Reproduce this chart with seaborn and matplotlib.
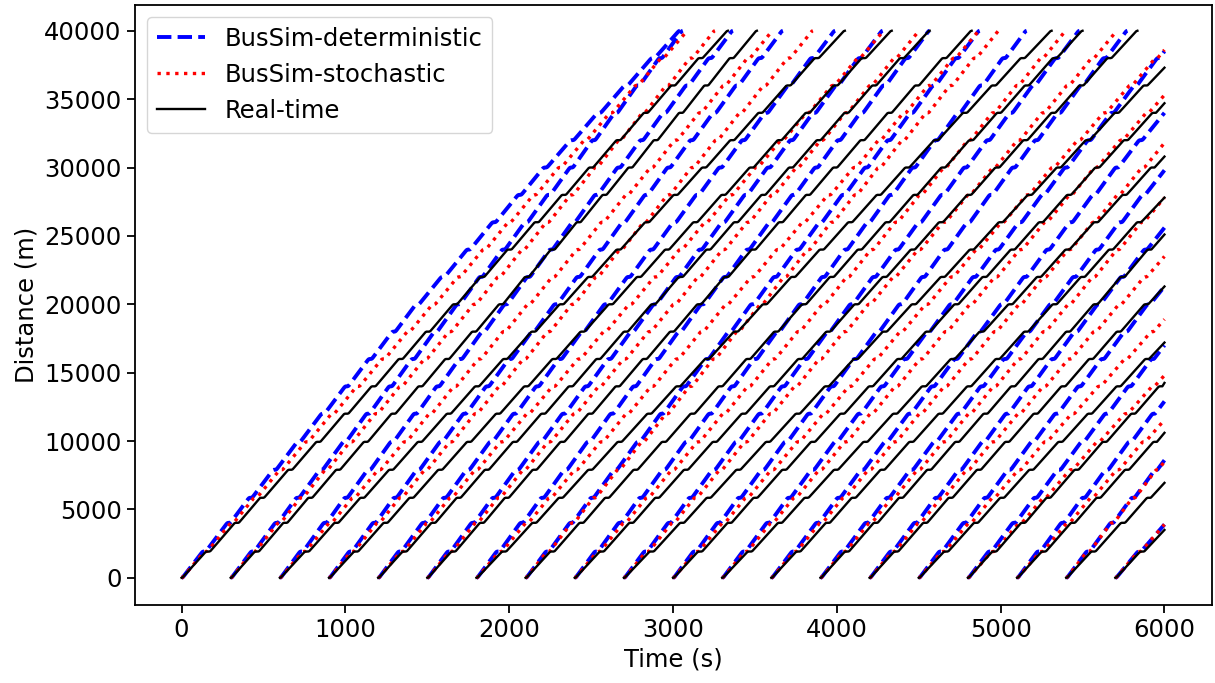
import numpy as np
import pandas as pd
import matplotlib
matplotlib.use("Agg")
import matplotlib.pyplot as plt
import seaborn as sns

# =========================
# DATA
# =========================

departures = [0, 300, 600, 900, 1200, 1500, 1800, 2100, 2400, 2700,
              3000, 3300, 3600, 3900, 4200, 4500, 4800, 5100, 5400, 5700]

# distance checkpoints (m) and passing times (s) of every bus
checkpoints = [0, 10000, 20000, 30000, 40000]

# bus stops along the route (m)
stops = [1920, 4020, 5850, 7900, 9940, 12000, 14000, 16000, 18000, 20000,
         22000, 24000, 26000, 28000, 30000, 32000, 34000, 36000, 38000]

det_times = [
    [0, 720, 1440, 2220, 3043],
    [300, 1000, 1690, 2380, 3060],
    [600, 1290, 1980, 2670, 3366],
    [900, 1590, 2285, 2975, 3671],
    [1200, 1895, 2590, 3290, 3990],
    [1500, 2195, 2890, 3585, 4280],
    [1800, 2490, 3180, 3875, 4567],
    [2100, 2795, 3485, 4180, 4872],
    [2400, 3090, 3780, 4470, 5159],
    [2700, 3395, 4090, 4785, 5482],
    [3000, 3695, 4390, 5080, 5774],
    [3300, 4000, 4700, 5400, None],
    [3600, 4305, 5010, 5710, None],
    [3900, 4605, 5310, None, None],
    [4200, 4900, 5600, None, None],
    [4500, 5200, 5905, None, None],
    [4800, 5505, None, None, None],
    [5100, 5795, None, None, None],
    [5400, None, None, None, None],
    [5700, None, None, None, None],
]
# distance reached at t = 6000 s (40000 = trip finished)
det_end = [40000] * 11 + [38500, 34000, 29800, 25600, 21300, 17000, 12900, 8600, 3900]

sto_times = [
    [0, 770, 1540, 2310, 3091],
    [300, 1040, 1790, 2530, 3256],
    [600, 1370, 2120, 2870, 3610],
    [900, 1650, 2390, 3120, 3854],
    [1200, 1960, 2740, 3510, 4290],
    [1500, 2250, 3010, 3760, 4506],
    [1800, 2570, 3330, 4110, 4870],
    [2100, 2820, 3540, 4260, 4990],
    [2400, 3160, 3920, 4660, 5400],
    [2700, 3450, 4200, 4960, 5713],
    [3000, 3770, 4550, 5320, None],
    [3300, 4060, 4820, 5580, None],
    [3600, 4360, 5120, 5870, None],
    [3900, 4660, 5420, None, None],
    [4200, 4960, 5730, None, None],
    [4500, 5280, None, None, None],
    [4800, 5600, None, None, None],
    [5100, 5880, None, None, None],
    [5400, None, None, None, None],
    [5700, None, None, None, None],
]
sto_end = [40000] * 10 + [38600, 35300, 31800, 27800, 23500, 18900, 14800, 11550, 8500, 3900]

real_times = [
    [0, 840, 1670, 2500, 3335],
    [300, 1130, 1950, 2740, 3512],
    [600, 1460, 2320, 3190, 4049],
    [900, 1760, 2620, 3480, 4335],
    [1200, 2040, 2880, 3720, 4567],
    [1500, 2330, 3160, 3990, 4823],
    [1800, 2680, 3560, 4430, 5311],
    [2100, 2950, 3800, 4650, 5500],
    [2400, 3260, 4120, 4980, 5835],
    [2700, 3585, 4470, 5355, None],
    [3000, 3860, 4730, 5590, None],
    [3300, 4180, 5060, 5930, None],
    [3600, 4460, 5330, None, None],
    [3900, 4740, 5580, None, None],
    [4200, 5045, 5890, None, None],
    [4500, 5370, None, None, None],
    [4800, 5640, None, None, None],
    [5100, 5950, None, None, None],
    [5400, None, None, None, None],
    [5700, None, None, None, None],
]
real_end = [40000] * 9 + [37300, 34700, 30800, 27800, 25100, 21300, 17200, 14250, 10600, 6940, 3500]

models = ["BusSim-deterministic", "BusSim-stochastic", "Real-time"]
dwell = {"BusSim-deterministic": 8, "BusSim-stochastic": 8, "Real-time": 16}
ramps = {"BusSim-deterministic": 0.08, "BusSim-stochastic": 0.07, "Real-time": 0.06}
T_END = 6000


# =========================
# BUILD TRAJECTORIES
# =========================

def profile(tau, r1, r2):
    # accelerate / cruise / decelerate between two stops
    r2 = max(r2, 1e-9)
    vmax = 1.0 / (1.0 - (r1 + r2) / 2.0)
    mid = vmax * (tau - r1 / 2.0)
    start = 0.5 * vmax * tau ** 2 / r1
    end = 1.0 - 0.5 * vmax * (1.0 - tau) ** 2 / r2
    return np.where(tau < r1, start, np.where(tau > 1 - r2, end, mid))


def trajectory(times, end_dist, wait, ramp):
    d = [c for c, t in zip(checkpoints, times) if t is not None]
    t = [t for t in times if t is not None]
    if end_dist < 40000:
        d.append(end_dist)
        t.append(T_END)
    nodes = [0] + [s for s in stops if s < d[-1] - 150] + [d[-1]]
    pass_t = np.interp(nodes, d, t)
    tt, xx = [pass_t[0]], [0.0]
    t0, x0 = pass_t[0], 0.0
    tau = np.linspace(0, 1, 24)[1:]
    for k in range(1, len(nodes)):
        last = k == len(nodes) - 1
        arr = pass_t[k] if last else pass_t[k] - wait / 2
        r2 = 0.0 if (last and end_dist < 40000) else ramp
        pos = profile(tau, ramp, r2)
        tt.extend(t0 + (arr - t0) * tau)
        xx.extend(x0 + (nodes[k] - x0) * pos)
        if not last:
            tt.append(arr + wait)
            xx.append(nodes[k])
            t0, x0 = arr + wait, nodes[k]
    return np.array(tt), np.array(xx)


rows = []
for model, table, ends in zip(models, [det_times, sto_times, real_times],
                              [det_end, sto_end, real_end]):
    for bus, (times, end) in enumerate(zip(table, ends)):
        tt, xx = trajectory(times, end, dwell[model], ramps[model])
        rows.append(pd.DataFrame({"Time": tt, "Distance": xx,
                                  "model": model, "bus": bus}))
df = pd.concat(rows, ignore_index=True)

# =========================
# PLOT
# =========================

plt.rcParams["font.size"] = 17.5
plt.rcParams["axes.linewidth"] = 1.3
plt.rcParams["xtick.major.size"] = 6
plt.rcParams["ytick.major.size"] = 6
plt.rcParams["xtick.major.width"] = 1.3
plt.rcParams["ytick.major.width"] = 1.3

fig = plt.figure(figsize=(12.15, 6.83), dpi=100)
ax = fig.add_axes([0.111, 0.114, 0.8865, 0.879])

sns.lineplot(data=df, x="Time", y="Distance", hue="model", style="model",
             size="model", units="bus", estimator=None, sort=False,
             hue_order=models, style_order=models, size_order=models,
             palette={"BusSim-deterministic": "blue",
                      "BusSim-stochastic": "red",
                      "Real-time": "black"},
             dashes={"BusSim-deterministic": (3.7, 1.6),
                     "BusSim-stochastic": (1, 1.65),
                     "Real-time": ""},
             sizes={"BusSim-deterministic": 2.8,
                    "BusSim-stochastic": 2.4,
                    "Real-time": 1.7},
             ax=ax)

ax.set_xlim(-285, 6290)
ax.set_ylim(-2000, 41900)
ax.set_xticks([0, 1000, 2000, 3000, 4000, 5000, 6000])
ax.set_yticks(np.arange(0, 40001, 5000))
ax.set_xlabel("Time (s)")
ax.set_ylabel("Distance (m)")

sns.move_legend(ax, "upper left", title=None, fontsize=17.5, frameon=True)

fig.savefig("out.png", dpi=100)
